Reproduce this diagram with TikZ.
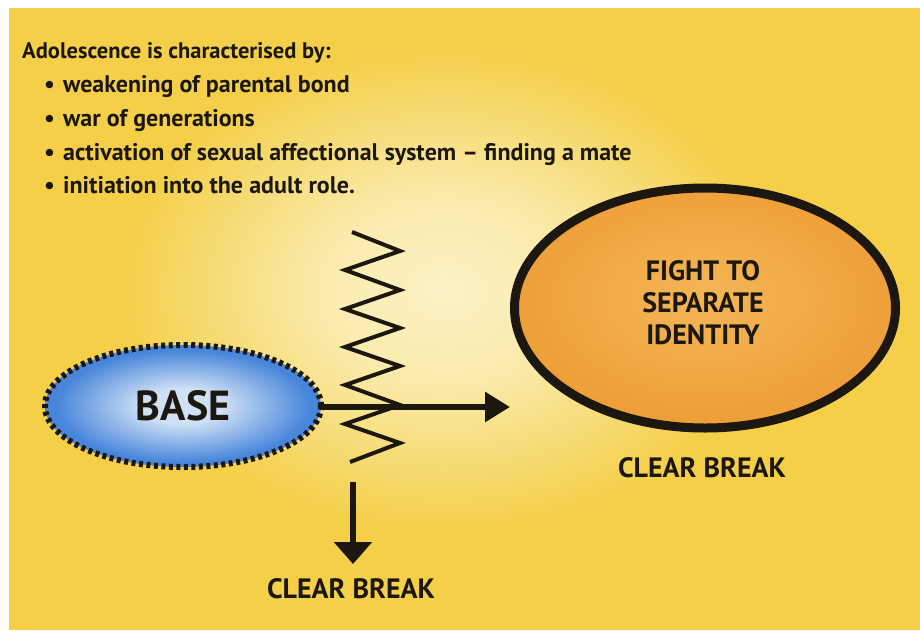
\documentclass[tikz,border=0pt]{standalone}
\usepackage{fontspec}
\setmainfont{PT Sans}
\usetikzlibrary{shapes.geometric,arrows.meta}
\definecolor{bgyellow}{HTML}{F4CF47}
\definecolor{glow}{HTML}{FBF2C6}
\definecolor{orangeedge}{HTML}{EE9F38}
\definecolor{orangecenter}{HTML}{F3B554}
\definecolor{blueedge}{HTML}{4886DB}
\definecolor{bluecenter}{HTML}{CFE1F5}
\definecolor{ink}{HTML}{1C1810}
% for \shade, the path's bounding box covers the inner 50bp x 50bp: ellipse edge = 25bp
\pgfdeclareradialshading{bluesh}{\pgfpoint{0bp}{0bp}}{color(0bp)=(bluecenter); color(7bp)=(bluecenter); color(23bp)=(blueedge); color(50bp)=(blueedge)}
\pgfdeclareradialshading{orangesh}{\pgfpoint{0bp}{3bp}}{color(0bp)=(orangecenter); color(12bp)=(orangecenter!60!orangeedge); color(25bp)=(orangeedge); color(50bp)=(orangeedge)}
\pgfdeclareradialshading{glowsh}{\pgfpoint{0bp}{0bp}}{color(0bp)=(glow); color(7bp)=(glow!80!bgyellow); color(19bp)=(bgyellow); color(50bp)=(bgyellow)}
\tikzset{
  txt/.style={text=ink, font=\bfseries},
  titleline/.style={txt, anchor=base west, inner sep=0pt, font=\fontsize{24}{28}\selectfont\bfseries},
  arr/.style={draw=ink, line width=6pt},
  zig/.style={draw=ink, line width=4pt, line join=miter, line cap=butt},
  label/.style={txt, font=\fontsize{28}{32}\selectfont\bfseries, inner sep=0pt}
}
\begin{document}
\begin{tikzpicture}[x=1pt,y=-1pt]
\useasboundingbox (0,0) rectangle (920,630);
\begin{scope}
  \clip (9,8) rectangle (920,630);
  \fill[bgyellow] (9,8) rectangle (920,630);
  \shade[shading=glowsh] (445,290) ellipse (430 and 320);
\end{scope}

% title text
\node[titleline, font=\fontsize{22.5}{27}\selectfont\bfseries] (t0) at (22,58) {Adolescence is characterised by:};
\node[titleline] (t1) at (44,92) {\makebox[19pt][l]{\textbullet}weakening of parental bond};
\node[titleline] (t2) at (44,126) {\makebox[19pt][l]{\textbullet}war of generations};
\node[titleline] (t3) at (44,160) {\makebox[19pt][l]{\textbullet}activation of sexual affectional system -- finding a mate};
\node[titleline] (t4) at (44,193) {\makebox[19pt][l]{\textbullet}initiation into the adult role.};

% ellipses
\node[ellipse, shading=bluesh, draw=ink, line width=6pt, dash pattern=on 4pt off 3.5pt,
      minimum width=276pt, minimum height=122pt, inner sep=0pt, txt,
      font=\fontsize{42}{46}\selectfont\bfseries] (base) at (183,406) {BASE};
\node[ellipse, shading=orangesh, draw=ink, line width=9pt,
      minimum width=381pt, minimum height=240pt, inner sep=0pt] (fight) at (705,308) {};
\node[label, align=center, font=\fontsize{28}{32}\selectfont\bfseries] (fighttxt) at (703,303) {FIGHT TO\\SEPARATE\\IDENTITY};

% zigzag
\draw[zig] (352,232) -- (400,251) -- (345,270) -- (400,290) -- (345,309) -- (400,328) -- (345,347)
  -- (400,366) -- (345,385) -- (400,405) -- (345,424) -- (400,443) -- (350,462);

% arrows
\coordinate (tipR) at (510,407);
\draw[arr, -{Triangle[length=25pt,width=29pt]}] (base.east |- 0,407) -- (tipR);
\coordinate (dtop) at (353,482);
\coordinate (dtip) at (353,564);
\draw[arr, -{Triangle[length=22pt,width=37pt]}] (dtop) -- (dtip);

% labels
\node[label] (cb1) at (351,589) {CLEAR BREAK};
\node[label] (cb2) at (702,468) {CLEAR BREAK};
\end{tikzpicture}
\end{document}
